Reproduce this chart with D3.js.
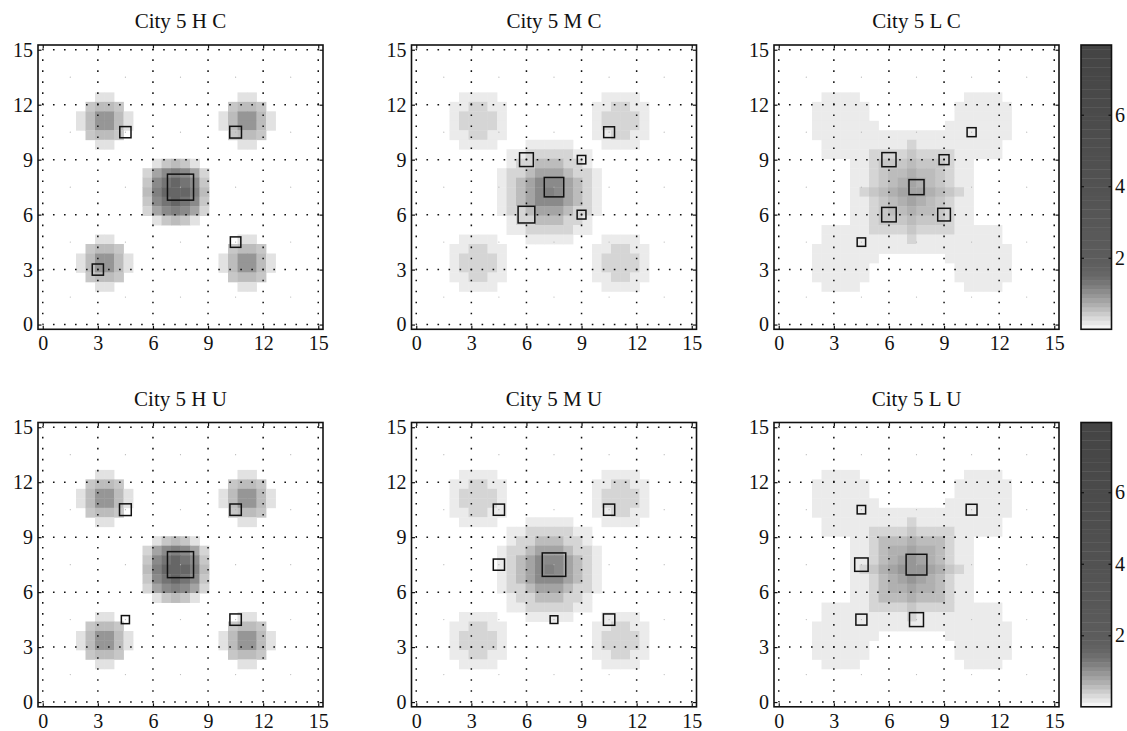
<!DOCTYPE html>
<html lang="en">
<head>
<meta charset="UTF-8">
<script src="https://d3js.org/d3.v7.min.js"></script>
<title>City 5</title>
<style>
  body { margin: 0; background: #fff; }
  svg text { font-family: "Liberation Serif", "Times New Roman", serif !important; fill: #111; }
</style>
</head>
<body>
<div id="chart"></div>
<script>
// ---- data ----
const titles = ["City 5 H C", "City 5 M C", "City 5 L C", "City 5 H U", "City 5 M U", "City 5 L U"];
const axisTicks = [0, 3, 6, 9, 12, 15];
const colorTicks = [2, 4, 6];
const colorMax = 7.95;

// each letter in a grid row stands for one value
const levelCodes = ".123456789ABCDE";
const levelValues = [0, 0.15, 0.24, 0.35, 0.47, 0.57, 0.68, 0.79, 0.95, 1.08, 1.19, 1.33, 1.55, 2.0, 3.5];

// 30 x 30 cells, top row first, columns 0..29 (spaces only for reading)
const gridHC = [
  "..... ..... ..... ..... ..... .....",
  "..... ..... ..... ..... ..... .....",
  "..... ..... ..... ..... ..... .....",
  "..... ..... ..... ..... ..... .....",
  "..... ..... ..... ..... ..... .....",
  "..... .22.. ..... ..... .22.. .....",
  "..... 4554. ..... ..... 4554. .....",
  "....2 58852 ..... ....2 58852 .....",
  "....2 58852 ..... ....2 58852 .....",
  "..... 4554. ..... ..... 4554. .....",
  "..... .22.. ..... ..... .22.. .....",
  "..... ..... ..... ..... ..... .....",
  "..... ..... ..245 42... ..... .....",
  "..... ..... .379A 973.. ..... .....",
  "..... ..... .49BC B94.. ..... .....",
  "..... ..... .5ACC CA5.. ..... .....",
  "..... ..... .49BC B94.. ..... .....",
  "..... ..... .379A 973.. ..... .....",
  "..... ..... ..245 42... ..... .....",
  "..... ..... ..... ..... ..... .....",
  "..... .22.. ..... ..... .22.. .....",
  "..... 4554. ..... ..... 4554. .....",
  "....2 58852 ..... ....2 58852 .....",
  "....2 58852 ..... ....2 58852 .....",
  "..... 4554. ..... ..... 4554. .....",
  "..... .22.. ..... ..... .22.. .....",
  "..... ..... ..... ..... ..... .....",
  "..... ..... ..... ..... ..... .....",
  "..... ..... ..... ..... ..... .....",
  "..... ..... ..... ..... ..... ....."
];
const gridMC = [
  "..... ..... ..... ..... ..... .....",
  "..... ..... ..... ..... ..... .....",
  "..... ..... ..... ..... ..... .....",
  "..... ..... ..... ..... ..... .....",
  "..... ..... ..... ..... ..... .....",
  "..... 1111. ..... ..... 1111. .....",
  "....1 13311 ..... ....1 13311 .....",
  "....1 33331 ..... ....1 33331 .....",
  "....1 33331 ..... ....1 33331 .....",
  "....1 13311 ..... ....1 13311 .....",
  "..... 1111. ..111 11... 1111. .....",
  "..... ..... 11333 3311. ..... .....",
  "..... ..... 13355 5331. ..... .....",
  "..... ....1 33577 75331 ..... .....",
  "..... ....1 35799 97531 ..... .....",
  "..... ....1 3579A 97531 ..... .....",
  "..... ....1 35799 97531 ..... .....",
  "..... ....1 33577 75331 ..... .....",
  "..... ..... 13355 5331. ..... .....",
  "..... ..... 11333 3311. ..... .....",
  "..... 1111. ..111 11... 1111. .....",
  "....1 13311 ..... ....1 13311 .....",
  "....1 33331 ..... ....1 33331 .....",
  "....1 33331 ..... ....1 33331 .....",
  "....1 13311 ..... ....1 13311 .....",
  "..... 1111. ..... ..... 1111. .....",
  "..... ..... ..... ..... ..... .....",
  "..... ..... ..... ..... ..... .....",
  "..... ..... ..... ..... ..... .....",
  "..... ..... ..... ..... ..... ....."
];
const gridLC = [
  "..... ..... ..... ..... ..... .....",
  "..... ..... ..... ..... ..... .....",
  "..... ..... ..... ..... ..... .....",
  "..... ..... ..... ..... ..... .....",
  "..... ..... ..... ..... ..... .....",
  "..... 1111. ..... ..... 1111. .....",
  "....1 11111 ..... ....1 11111 .....",
  "....1 11111 ..... ....1 11111 .....",
  "....1 11111 1.... ...11 11111 .....",
  "....1 11111 11111 11111 11111 .....",
  "..... 11111 11113 11111 1111. .....",
  "..... 11111 33334 33331 1111. .....",
  "..... ...11 34445 44431 1.... .....",
  "..... ...11 34556 55431 1.... .....",
  "..... ...11 34567 65431 1.... .....",
  "..... ...13 45677 76543 1.... .....",
  "..... ...11 34567 65431 1.... .....",
  "..... ...11 34556 55431 1.... .....",
  "..... ...11 34445 44431 1.... .....",
  "..... 11111 33334 33331 1111. .....",
  "..... 11111 11113 11111 1111. .....",
  "....1 11111 11111 11111 11111 .....",
  "....1 11111 1.... ...11 11111 .....",
  "....1 11111 ..... ....1 11111 .....",
  "....1 11111 ..... ....1 11111 .....",
  "..... 1111. ..... ..... 1111. .....",
  "..... ..... ..... ..... ..... .....",
  "..... ..... ..... ..... ..... .....",
  "..... ..... ..... ..... ..... .....",
  "..... ..... ..... ..... ..... ....."
];
const gridHU = gridHC.slice();
const gridMU = gridMC.slice();
const gridLU = [
  "..... ..... ..... ..... ..... .....",
  "..... ..... ..... ..... ..... .....",
  "..... ..... ..... ..... ..... .....",
  "..... ..... ..... ..... ..... .....",
  "..... ..... ..... ..... ..... .....",
  "..... 1111. ..... ..... 1111. .....",
  "....1 11111 ..... ....1 11111 .....",
  "....1 11111 ..... ....1 11111 .....",
  "....1 11111 1.... ...11 11111 .....",
  "....1 11111 11111 11111 11111 .....",
  "..... 11111 11113 11111 1111. .....",
  "..... 11111 33334 33331 1111. .....",
  "..... ...11 35556 55531 1.... .....",
  "..... ...11 35667 66531 1.... .....",
  "..... ...11 35678 76531 1.... .....",
  "..... ...13 46788 87643 1.... .....",
  "..... ...11 35678 76531 1.... .....",
  "..... ...11 35667 66531 1.... .....",
  "..... ...11 35556 55531 1.... .....",
  "..... 11111 33334 33331 1111. .....",
  "..... 11111 11113 11111 1111. .....",
  "....1 11111 11111 11111 11111 .....",
  "....1 11111 1.... ...11 11111 .....",
  "....1 11111 ..... ....1 11111 .....",
  "....1 11111 ..... ....1 11111 .....",
  "..... 1111. ..... ..... 1111. .....",
  "..... ..... ..... ..... ..... .....",
  "..... ..... ..... ..... ..... .....",
  "..... ..... ..... ..... ..... .....",
  "..... ..... ..... ..... ..... ....."
];

// square markers: centre x, centre y, side (axis units)
const markHCx = [7.5, 4.5, 10.5, 10.5, 3];
const markHCy = [7.5, 10.5, 10.5, 4.5, 3];
const markHCs = [1.42, 0.61, 0.64, 0.57, 0.61];
const markMCx = [6, 9, 7.5, 6, 9, 10.5];
const markMCy = [9, 9, 7.5, 6, 6, 10.5];
const markMCs = [0.75, 0.46, 1.06, 0.91, 0.48, 0.59];
const markLCx = [10.5, 6, 9, 7.5, 6, 9, 4.5];
const markLCy = [10.5, 9, 9, 7.5, 6, 6, 4.5];
const markLCs = [0.49, 0.77, 0.54, 0.82, 0.79, 0.69, 0.46];
const markHUx = [4.5, 10.5, 7.5, 4.5, 10.5];
const markHUy = [10.5, 10.5, 7.5, 4.5, 4.5];
const markHUs = [0.64, 0.62, 1.42, 0.44, 0.62];
const markMUx = [4.5, 10.5, 4.5, 7.5, 7.5, 10.5];
const markMUy = [10.5, 10.5, 7.5, 7.5, 4.5, 4.5];
const markMUs = [0.61, 0.61, 0.61, 1.28, 0.42, 0.62];
const markLUx = [4.5, 10.5, 4.5, 7.5, 4.5, 7.5];
const markLUy = [10.5, 10.5, 7.5, 7.5, 4.5, 4.5];
const markLUs = [0.46, 0.59, 0.73, 1.13, 0.60, 0.76];

// ---- colour map (value -> grey) ----
const cmapV = [0, 0.12, 0.25, 0.5, 0.75, 1.0, 1.25, 1.5, 1.75, 2, 4, 6, 7.95];
const cmapG = [252, 238, 225, 196, 168, 145, 122, 104, 96, 92, 82, 75, 68];
const grey = d3.scaleLinear().domain(cmapV).range(cmapG).clamp(true);
const color = v => { const g = Math.round(grey(v)); return `rgb(${g},${g},${g})`; };

// ---- layout ----
const width = 1127, height = 731;
const W = 285, H = 284.3;
const lefts = [38, 411.5, 774];
const tops = [45, 422.5];
const cbLeft = 1081, cbW = 30.5;
const step = 15 / 29;
const lim = [-step / 2, 15 + step / 2];
const serif = '"Liberation Serif", "Times New Roman", serif';

const svg = d3.select("#chart").append("svg")
  .attr("width", width).attr("height", height)
  .attr("viewBox", [0, 0, width, height]);

const panels = [
  { grid: gridHC, mx: markHCx, my: markHCy, ms: markHCs },
  { grid: gridMC, mx: markMCx, my: markMCy, ms: markMCs },
  { grid: gridLC, mx: markLCx, my: markLCy, ms: markLCs },
  { grid: gridHU, mx: markHUx, my: markHUy, ms: markHUs },
  { grid: gridMU, mx: markMUx, my: markMUy, ms: markMUs },
  { grid: gridLU, mx: markLUx, my: markLUy, ms: markLUs }
];

function styleLabels(a) {
  a.select(".domain").remove();
  a.attr("font-family", serif).attr("font-size", 20);
  a.selectAll("text").style("font-family", serif).attr("font-size", 20).attr("fill", "#111");
}

panels.forEach((p, i) => {
  const left = lefts[i % 3], top = tops[Math.floor(i / 3)];
  const x = d3.scaleLinear().domain(lim).range([left, left + W]);
  const y = d3.scaleLinear().domain(lim).range([top + H, top]);
  const g = svg.append("g");

  const cells = [];
  p.grid.forEach((row, ri) => {
    const s = row.replace(/ /g, "");
    for (let k = 0; k < 30; k++) {
      const v = levelValues[levelCodes.indexOf(s[k])];
      if (v > 0) cells.push({ k, r: 29 - ri, v });
    }
  });
  g.append("g").selectAll("rect").data(cells).join("rect")
    .attr("x", d => x(d.k * step - step / 2))
    .attr("y", d => y(d.r * step + step / 2))
    .attr("width", x(step) - x(0) + 0.4)
    .attr("height", y(0) - y(step) + 0.4)
    .attr("fill", d => color(d.v));

  // faint dots in the middle of each grid square
  const mids = d3.cross([1.5, 4.5, 7.5, 10.5, 13.5], [1.5, 4.5, 7.5, 10.5, 13.5]);
  g.append("g").selectAll("circle").data(mids).join("circle")
    .attr("cx", d => x(d[0])).attr("cy", d => y(d[1])).attr("r", 0.6)
    .attr("fill", "#b5b5b5");

  // dotted grid
  const period = (x(0.6) - x(0));
  const dash = `1.6,${period - 1.6}`;
  g.append("g").selectAll("line").data(axisTicks).join("line")
    .attr("x1", d => x(d)).attr("x2", d => x(d))
    .attr("y1", y(0)).attr("y2", y(15.05))
    .attr("stroke", "#111").attr("stroke-width", 1.5)
    .attr("stroke-dasharray", dash).attr("stroke-dashoffset", 0.8);
  g.append("g").selectAll("line").data(axisTicks).join("line")
    .attr("y1", d => y(d)).attr("y2", d => y(d))
    .attr("x1", x(0)).attr("x2", x(15.05))
    .attr("stroke", "#111").attr("stroke-width", 1.5)
    .attr("stroke-dasharray", dash).attr("stroke-dashoffset", 0.8);

  // square markers
  g.append("g").selectAll("rect").data(d3.range(p.mx.length)).join("rect")
    .attr("x", j => x(p.mx[j] - p.ms[j] / 2))
    .attr("y", j => y(p.my[j] + p.ms[j] / 2))
    .attr("width", j => x(p.ms[j]) - x(0))
    .attr("height", j => y(0) - y(p.ms[j]))
    .attr("fill", "none").attr("stroke", "#111").attr("stroke-width", 1.5);

  // axes box with inward ticks
  g.append("g").attr("transform", `translate(0,${top + H})`)
    .call(d3.axisBottom(x).tickValues(axisTicks).tickSize(-3.5).tickPadding(7).tickFormat(d3.format("d")))
    .call(styleLabels);
  g.append("g").attr("transform", `translate(0,${top})`)
    .call(d3.axisTop(x).tickValues(axisTicks).tickSize(-3.5).tickFormat(""))
    .call(a => a.select(".domain").remove());
  g.append("g").attr("transform", `translate(${left},0)`)
    .call(d3.axisLeft(y).tickValues(axisTicks).tickSize(-3.5).tickPadding(5).tickFormat(d3.format("d")))
    .call(styleLabels);
  g.append("g").attr("transform", `translate(${left + W},0)`)
    .call(d3.axisRight(y).tickValues(axisTicks).tickSize(-3.5).tickFormat(""))
    .call(a => a.select(".domain").remove());
  g.selectAll(".tick line").attr("stroke", "#111").attr("stroke-width", 1.2);

  g.append("rect").attr("x", left).attr("y", top).attr("width", W).attr("height", H)
    .attr("fill", "none").attr("stroke", "#111").attr("stroke-width", 1.6);

  g.append("text").attr("x", left + W / 2).attr("y", top - 17)
    .attr("text-anchor", "middle").attr("font-size", 21)
    .style("font-family", serif).text(titles[i]);
});

// colour bars, one per row
tops.forEach(top => {
  const cy = d3.scaleLinear().domain([0, colorMax]).range([top + H, top]);
  const nBands = 64;
  const bandH = colorMax / nBands;
  const g = svg.append("g");
  g.selectAll("rect").data(d3.range(nBands)).join("rect")
    .attr("x", cbLeft).attr("width", cbW)
    .attr("y", b => cy((b + 1) * bandH))
    .attr("height", b => cy(b * bandH) - cy((b + 1) * bandH) + 0.4)
    .attr("fill", b => color((b + 0.5) * bandH));
  g.append("g").attr("transform", `translate(${cbLeft + cbW},0)`)
    .call(d3.axisRight(cy).tickValues(colorTicks).tickSize(-3).tickPadding(3.5).tickFormat(d3.format("d")))
    .call(styleLabels);
  g.append("g").attr("transform", `translate(${cbLeft},0)`)
    .call(d3.axisLeft(cy).tickValues(colorTicks).tickSize(-3).tickFormat(""))
    .call(a => a.select(".domain").remove());
  g.selectAll(".tick line").attr("stroke", "#111").attr("stroke-width", 1.2);
  g.append("rect").attr("x", cbLeft).attr("y", top).attr("width", cbW).attr("height", H)
    .attr("fill", "none").attr("stroke", "#111").attr("stroke-width", 1.6);
});
</script>
</body>
</html>
